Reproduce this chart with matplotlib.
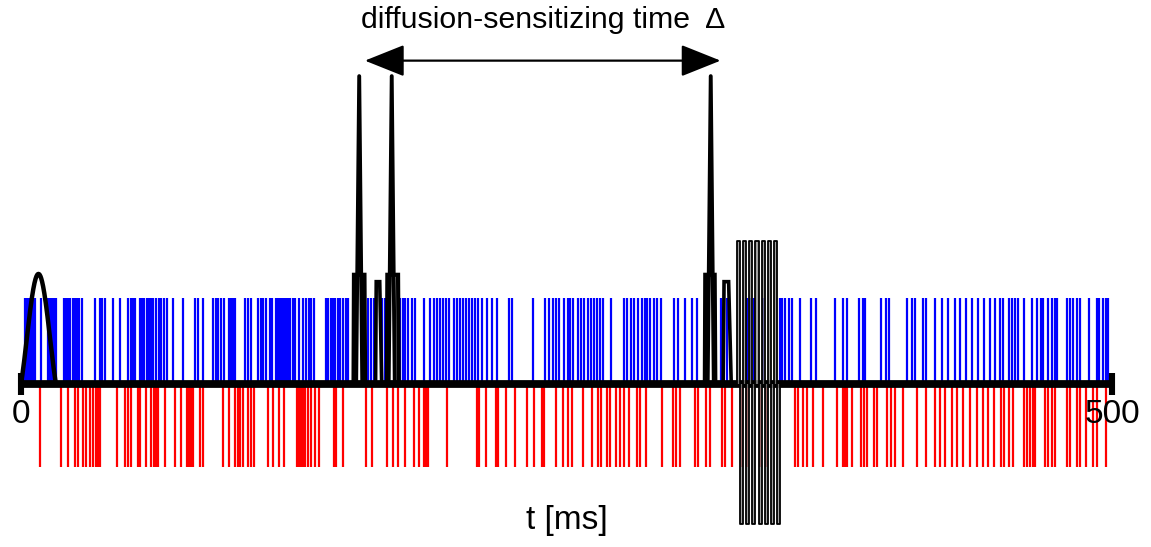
import numpy as np
import matplotlib
matplotlib.use("Agg")
import matplotlib.pyplot as plt

plt.rcParams['font.family'] = ['Liberation Sans', 'DejaVu Sans']

# ---- spike trains (event times in ms) ----
blue_spikes = [
    1.8, 2.7, 3.7, 4.6, 5.5, 6.4, 9.0, 12.4, 13.3, 14.2, 15.1, 16.0, 19.7, 20.6,
    21.5, 22.5, 23.8, 24.7, 25.7, 26.6, 28.0, 33.8, 36.2, 37.1, 38.5, 42.2, 45.2,
    49.0, 50.4, 51.3, 52.2, 54.5, 55.5, 56.4, 57.7, 58.7, 59.6, 60.5, 61.9, 63.2,
    64.2, 65.5, 66.9, 69.7, 74.2, 79.6, 81.1, 83.4, 88.0, 89.4, 90.3, 91.7, 93.0,
    95.3, 96.2, 97.2, 98.1, 102.7, 104.0, 105.4, 108.6, 110.0, 110.9, 112.3,
    114.1, 115.0, 116.9, 117.8, 118.7, 119.6, 120.5, 121.4, 122.4, 123.3, 124.7,
    125.6, 127.4, 129.2, 130.6, 132.0, 132.9, 134.3, 139.8, 140.7, 142.1, 143.0,
    143.9, 145.3, 146.2, 147.6, 148.9, 149.9, 159.0, 160.4, 161.8, 165.4, 166.8,
    173.7, 175.1, 176.0, 177.4, 179.2, 180.6, 184.7, 187.4, 189.3, 190.7, 192.0,
    193.4, 194.8, 196.2, 198.4, 199.8, 201.2, 202.6, 203.9, 205.3, 206.7, 208.1,
    209.4, 211.3, 213.6, 215.9, 218.2, 223.7, 225.0, 234.6, 240.1, 242.0, 243.8,
    245.2, 246.6, 248.9, 250.7, 251.6, 253.0, 255.3, 256.6, 258.0, 259.9, 261.2,
    262.6, 264.0, 265.4, 266.7, 270.4, 276.4, 277.7, 279.6, 280.9, 282.8, 284.6,
    286.0, 286.9, 288.3, 290.1, 291.5, 293.3, 299.3, 301.1, 304.3, 307.5, 309.8,
    320.8, 323.6, 332.7, 334.1, 335.9, 340.1, 347.8, 348.8, 350.1, 352.0, 353.3,
    357.0, 362.1, 364.3, 373.1, 376.7, 378.6, 384.1, 385.9, 386.8, 394.1, 396.4,
    397.8, 406.1, 408.3, 409.7, 413.4, 414.8, 418.9, 422.1, 424.8, 428.1, 430.3,
    433.1, 435.8, 438.6, 441.3, 444.1, 446.4, 448.7, 450.1, 452.8, 454.2, 455.6,
    456.9, 459.7, 463.3, 465.6, 467.5, 468.4, 470.7, 472.5, 473.9, 474.8, 479.4,
    480.8, 482.1, 484.0, 485.3, 489.5, 493.1, 494.1, 495.9, 497.3, 498.2,
]

red_spikes = [
    8.7, 18.2, 21.5, 24.7, 26.1, 28.4, 29.8, 31.5, 33.0, 34.4, 35.3, 36.2, 44.0,
    47.7, 49.0, 50.3, 53.6, 54.5, 57.2, 59.4, 61.0, 61.9, 62.8, 65.9, 70.4, 73.3,
    76.1, 77.0, 77.9, 78.8, 82.0, 83.4, 92.6, 95.3, 98.1, 99.5, 100.4, 101.7,
    104.0, 105.4, 106.8, 113.2, 115.5, 118.2, 120.5, 126.5, 127.4, 128.3, 129.2,
    130.2, 131.5, 132.9, 134.7, 136.6, 143.4, 144.4, 147.6, 158.1, 160.9, 167.6,
    170.5, 172.8, 176.0, 180.1, 182.4, 184.7, 185.6, 186.5, 195.2, 209.0, 209.9,
    213.1, 217.7, 218.6, 222.3, 226.4, 231.9, 235.1, 238.8, 239.7, 245.2, 248.4,
    250.7, 252.5, 257.6, 261.7, 264.4, 265.8, 268.6, 269.9, 272.7, 274.5, 276.4,
    278.6, 282.3, 283.7, 286.4, 293.8, 298.8, 300.2, 302.0, 308.9, 310.3, 313.9,
    315.8, 321.3, 322.6, 325.9, 330.4, 332.7, 338.7, 341.4, 354.7, 356.1, 358.4,
    360.2, 363.0, 367.6, 374.0, 376.7, 377.6, 378.6, 380.8, 385.0, 386.3, 387.7,
    390.9, 392.3, 396.9, 398.7, 400.5, 404.2, 410.6, 414.8, 418.9, 421.2, 423.5,
    426.7, 429.0, 431.7, 434.9, 438.1, 440.9, 443.2, 445.9, 449.1, 450.5, 452.8,
    454.6, 459.7, 461.0, 462.4, 463.8, 464.7, 469.3, 470.7, 472.5, 473.9, 479.4,
    480.8, 484.0, 485.3, 488.1, 491.3, 493.1, 497.3,
]

# ---- pulse sequence waveforms (time in ms, amplitude in arbitrary units) ----
rf_start, rf_end, rf_amp = 0.0, 16.0, 1.28

# diffusion gradient lobes: plateau part
trap_t = [
    [152.4, 152.6, 157.4, 157.7],
    [167.7, 167.9, 172.8, 173.1],
    [313.4, 313.6, 317.9, 318.2],
]
trap_amp = 1.27
# narrow peaks riding on the lobes
peak_t = [
    [153.6, 155.0, 156.4],
    [168.5, 169.9, 171.3],
    [314.7, 316.1, 317.5],
]
peak_amp = 3.58
# small crusher lobes
crush_t = [
    [162.5, 162.8, 164.4, 165.3],
    [321.8, 322.2, 324.3, 325.5],
]
crush_amp = 1.19

# read-out train
epi_start, epi_period, epi_cycles = 328.2, 2.8, 7
epi_top, epi_bottom = 1.66, -1.63

# arrow for the diffusion time
delta_from, delta_to, delta_y = 157.6, 320.6, 3.76

# ---- figure ----
fig = plt.figure(figsize=(11.51, 5.47), dpi=100)
ax = fig.add_axes([0, 0, 1, 1])
ax.set_xlim(-9.624, 517.87)
ax.set_ylim(-1.895, 4.465)
ax.axis('off')

ax.vlines(blue_spikes, 0, 1.0, color='#0000ff', lw=1.6, zorder=1)
ax.vlines(red_spikes, 0, -0.965, color='#ff0000', lw=1.6, zorder=1)

# time axis
ax.plot([0, 500], [0, 0], color='black', lw=5.6, solid_capstyle='butt', zorder=3)
for tx in (0, 500):
    ax.plot([tx, tx], [-0.13, 0.13], color='black', lw=4.4,
            solid_capstyle='butt', zorder=3)

# RF excitation (sinc main lobe)
t_rf = np.linspace(rf_start, rf_end, 200)
u = (t_rf - (rf_start + rf_end) / 2) / ((rf_end - rf_start) / 2)
ax.plot(t_rf, rf_amp * np.sinc(u), color='black', lw=3.2, zorder=4)

# gradients
for tt in trap_t:
    ax.plot(tt, [0, trap_amp, trap_amp, 0], color='black', lw=3.0,
            solid_joinstyle='miter', zorder=4)
for tt in peak_t:
    ax.plot(tt, [0, peak_amp, 0], color='black', lw=2.8, zorder=4)
for tt in crush_t:
    ax.plot(tt, [0, crush_amp, crush_amp, 0], color='black', lw=2.6,
            solid_joinstyle='miter', zorder=4)

# read-out gradient train
wt, wa = [epi_start], [0.0]
for i in range(epi_cycles):
    a = epi_start + i * epi_period
    b = a + epi_period / 2
    c = a + epi_period
    wt += [a, b, b, c]
    wa += [epi_top, epi_top, epi_bottom, epi_bottom]
wt.append(epi_start + epi_cycles * epi_period)
wa.append(0.0)
ax.fill_between(wt, wa, 0, color='#8c8c8c', alpha=0.8, lw=0, zorder=5)
ax.plot(wt, wa, color='black', lw=1.3, zorder=6)

# diffusion-sensitizing time
ax.annotate('', xy=(delta_to, delta_y), xytext=(delta_from, delta_y),
            arrowprops=dict(arrowstyle='<|-|>,head_length=1.25,head_width=0.5',
                            mutation_scale=20, color='black', lw=1.6,
                            shrinkA=0, shrinkB=0))
ax.text(239.2, 4.23, 'diffusion-sensitizing time  Δ', ha='center', va='center',
        fontsize=21.8)

ax.text(0, -0.36, '0', ha='center', va='center', fontsize=24)
ax.text(500, -0.36, '500', ha='center', va='center', fontsize=24)
ax.text(250, -1.59, 't [ms]', ha='center', va='center', fontsize=24)

fig.savefig('out.png', dpi=100)
